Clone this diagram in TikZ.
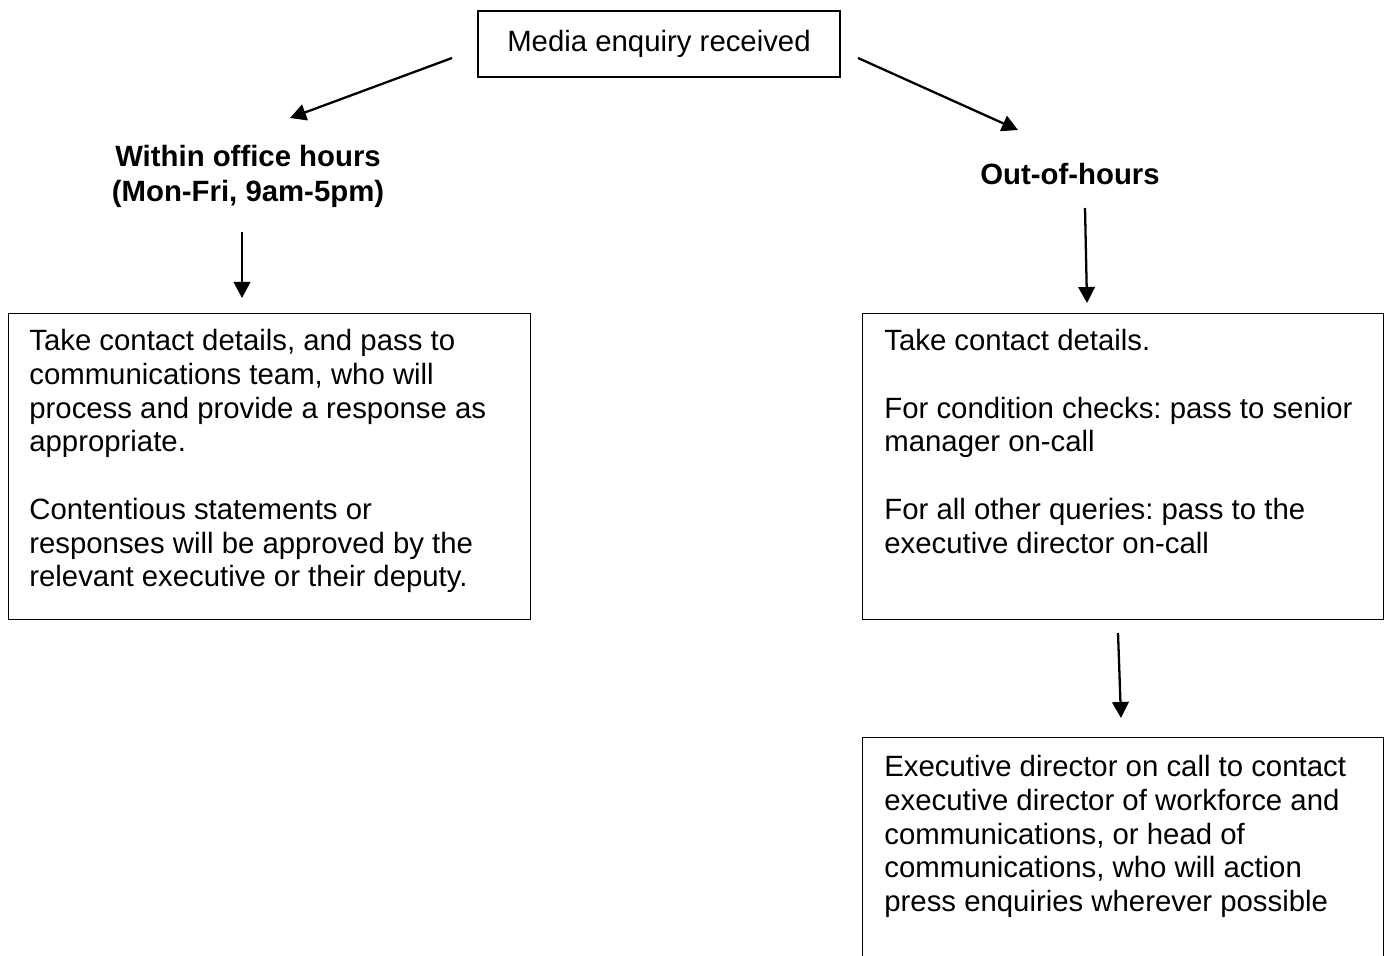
\documentclass[tikz,border=0pt]{standalone}
\usepackage{fontspec}
\setmainfont{Liberation Sans}
\usetikzlibrary{arrows.meta}

\tikzset{
  box/.style={draw, line width=0.8pt, inner sep=0pt},
  boxtext/.style={anchor=north west, align=left, inner sep=0pt,
    font=\fontsize{16.7}{19.2}\selectfont\frenchspacing},
  heading/.style={align=center, inner sep=0pt,
    font=\fontsize{16.7}{19.6}\selectfont\bfseries},
  flow/.style={-{Triangle[length=3.2mm,width=3.3mm]}, line width=1.3pt},
}

\begin{document}
\begin{tikzpicture}
    % --- SETTINGS ---
    \def\PW{27.78} % picture width
    \def\PH{19.12} % picture height
    \useasboundingbox (0,0) rectangle (\PW,-\PH);
    \clip (0,0) rectangle (\PW,-\PH);

    % --- START ---
    \node[box, minimum width=7.24cm, minimum height=1.32cm,
          font=\fontsize{16.7}{19.2}\selectfont] (media) at (13.18,-0.88) {Media enquiry received};

    % --- TWO BRANCHES ---
    \node[heading] (office) at (4.96,-3.53) {Within office hours\\(Mon-Fri, 9am-5pm)};
    \node[heading] (outhours) at (21.40,-3.48) {Out-of-hours};

    % --- OFFICE HOURS BOX (left) ---
    \node[box, anchor=north west, minimum width=10.44cm, minimum height=6.12cm] (officebox) at (0.16,-6.26) {};
    \node[boxtext] (officetext) at ([shift={(0.42,-0.32)}]officebox.north west)
        {Take contact details, and pass to\\
         communications team, who will\\
         process and provide a response as\\
         appropriate.\\[19.2pt]
         Contentious statements or\\
         responses will be approved by the\\
         relevant executive or their deputy.};

    % --- OUT-OF-HOURS BOX (right) ---
    \node[box, anchor=north west, minimum width=10.42cm, minimum height=6.12cm] (outbox) at (17.24,-6.26) {};
    \node[boxtext] (outtext) at ([shift={(0.44,-0.32)}]outbox.north west)
        {Take contact details.\\[19.2pt]
         For condition checks: pass to senior\\
         manager on-call\\[19.2pt]
         For all other queries: pass to the\\
         executive director on-call};

    % --- EXECUTIVE DIRECTOR BOX (runs off the page) ---
    \node[box, anchor=north west, minimum width=10.42cm, minimum height=5.2cm] (execbox) at (17.24,-14.74) {};
    \node[boxtext] (exectext) at ([shift={(0.44,-0.36)}]execbox.north west)
        {Executive director on call to contact\\
         executive director of workforce and\\
         communications, or head of\\
         communications, who will action\\
         press enquiries wherever possible};

    % --- ARROW ENDS ---
    \coordinate (l1) at (9.04,-1.16);   \coordinate (l2) at (5.80,-2.36);
    \coordinate (r1) at (17.16,-1.16);  \coordinate (r2) at (20.36,-2.60);
    \coordinate (l3) at (4.84,-4.64);   \coordinate (l4) at (4.84,-5.96);
    \coordinate (r3) at (21.70,-4.16);  \coordinate (r4) at (21.74,-6.06);
    \coordinate (r5) at (22.36,-12.66); \coordinate (r6) at (22.42,-14.36);

    % --- ARROWS ---
    \draw[flow] (l1) -- (l2);
    \draw[flow] (r1) -- (r2);
    \draw[flow] (l3) -- (l4);
    \draw[flow] (r3) -- (r4);
    \draw[flow] (r5) -- (r6);

\end{tikzpicture}
\end{document}
